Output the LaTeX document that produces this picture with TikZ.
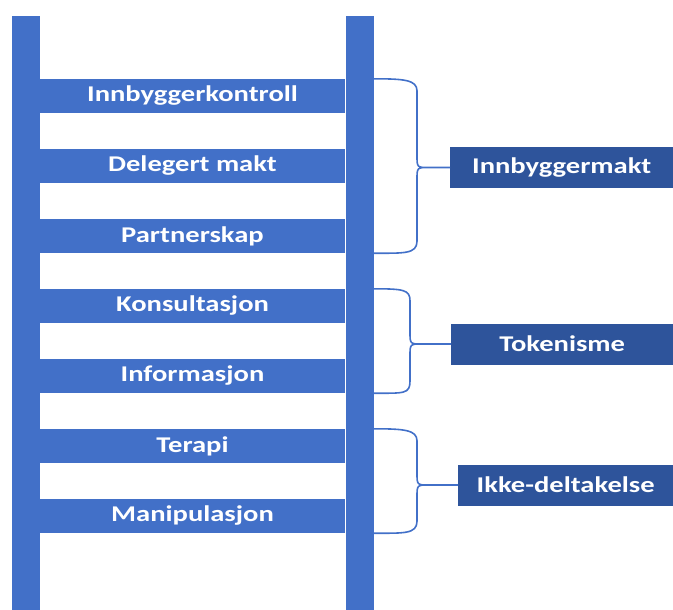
\documentclass[tikz,border=0pt]{standalone}
\usepackage{fontspec}
\setmainfont{Carlito}
\usetikzlibrary{calc}
\definecolor{rungblue}{RGB}{66,112,200}
\definecolor{boxblue}{RGB}{46,84,155}
\newcommand\wide[1]{\scalebox{1.27}[1]{#1}}
% brace from first rung to last rung, spine at x, tip to label box
\newcommand\ladderbrace[4]{%
  \draw[brace] let \p1=(#1.north -| railR.east), \p2=(#2.south -| railR.east), \p3=(#4.west) in
    (\p1) .. controls (\x1+30pt,\y1) and (#3pt,\y1-1pt) .. (#3pt,\y1-12pt)
    -- (#3pt,\y3+12pt) .. controls (#3pt,\y3) .. (#3pt+12pt,\y3) -- (\p3)
    (#3pt+12pt,\y3) .. controls (#3pt,\y3) .. (#3pt,\y3-12pt)
    -- (#3pt,\y2+12pt) .. controls (#3pt,\y2-1pt) and (\x2+30pt,\y2) .. (\p2);}

\begin{document}
\begin{tikzpicture}[x=1pt,y=-1pt,
  rail/.style={fill=rungblue, inner sep=0pt, minimum width=28pt, minimum height=594pt},
  rung/.style={fill=rungblue, text=white, inner sep=0pt, minimum width=305pt, minimum height=34pt,
    font=\fontsize{22.5}{24}\selectfont\bfseries},
  group/.style={fill=boxblue, text=white, anchor=west, inner sep=0pt, minimum height=41pt,
    font=\fontsize{22.5}{24}\selectfont\bfseries},
  brace/.style={draw=rungblue, line width=1.6pt, line join=round}]
	%%%%% START %%%%%
	\useasboundingbox (0,0) rectangle (673,610);
	
	\node[rail] (railL) at (25.5,313) {};
	\node[rail] (railR) at (359.5,313) {};
	
	\node[rung] (r1) at (192.5,96) {\wide{Innbyggerkontroll}};
	\node[rung] (r2) at (192.5,166) {\wide{Delegert makt}};
	\node[rung] (r3) at (192.5,236) {\wide{Partnerskap}};
	\node[rung] (r4) at (192.5,306) {\wide{Konsultasjon}};
	\node[rung] (r5) at (192.5,376) {\wide{Informasjon}};
	\node[rung] (r6) at (192.5,446) {\wide{Terapi}};
	\node[rung] (r7) at (192.5,516) {\wide{Manipulasjon}};
	
	\node[group, minimum width=223pt] (makt) at (450,167.5) {\wide{Innbyggermakt}};
	\node[group, minimum width=222pt] (token) at (451,344) {\wide{Tokenisme}};
	\node[group, minimum width=215pt] (ikke) at (458,485) {\wide{Ikke-deltakelse}};
	
	\ladderbrace{r1}{r3}{417}{makt}
	\ladderbrace{r4}{r5}{410}{token}
	\ladderbrace{r6}{r7}{417}{ikke}
	%%%%% END %%%%%
\end{tikzpicture}
\end{document}
